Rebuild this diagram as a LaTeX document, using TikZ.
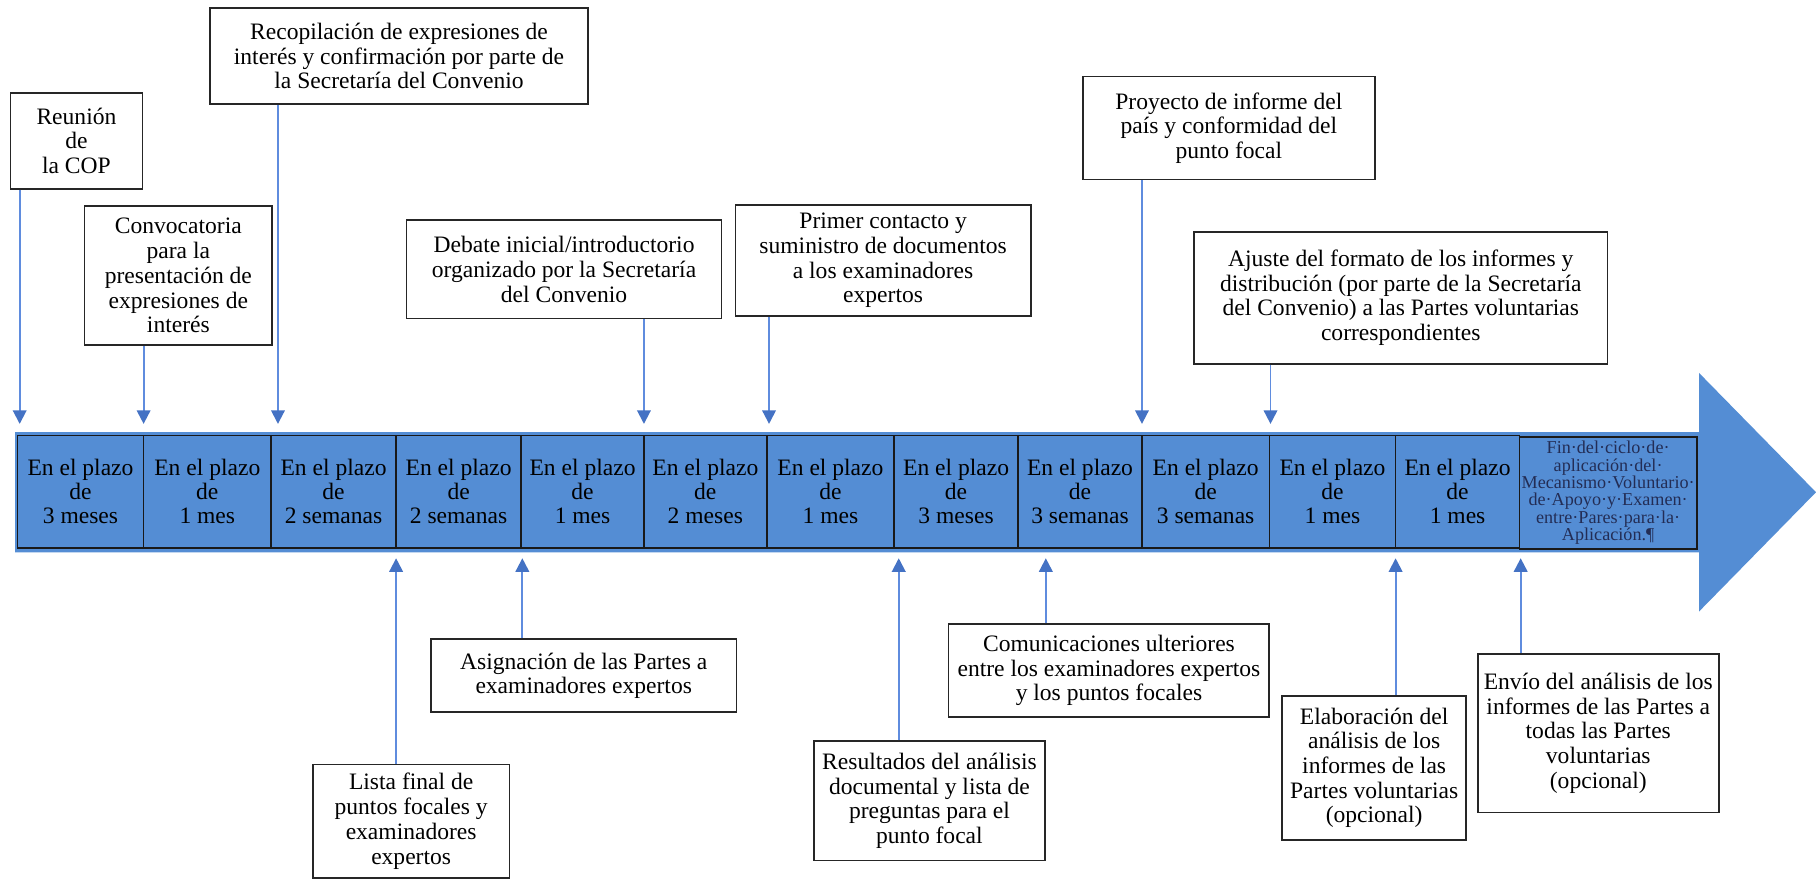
\documentclass[tikz,border=0pt]{standalone}
\usepackage{fontspec}
\setmainfont{Liberation Serif}
\usetikzlibrary{arrows.meta}
\definecolor{barblue}{RGB}{84,141,212}
\definecolor{connblue}{RGB}{95,140,222}
\definecolor{tipblue}{RGB}{68,114,196}
\definecolor{fintext}{RGB}{35,45,85}
\begin{document}
\begin{tikzpicture}[x=0.6pt,y=-0.6pt,
  tbox/.style={draw=black!85, line width=0.9pt, fill=white, align=center, inner sep=2pt, font=\fontsize{12.2}{12.8}\selectfont},
  cell/.style={draw=black!90, line width=0.9pt, fill=barblue, align=center, inner sep=0pt, minimum height=58.2pt, font=\fontsize{12.2}{12.3}\selectfont},
  conn/.style={draw=connblue, line width=1pt, -{Triangle[width=7pt,length=7pt,color=tipblue]}},
]
\useasboundingbox (0,0) rectangle (1568,762);

% big arrow
\fill[barblue]
  (13,373) -- (1467,373) -- (1467,322) -- (1568,425) -- (1467,528) -- (1467,477) -- (13,477) -- cycle;

% cells
\node[cell, minimum width=65.4pt] (c1) at (69.5,424.5) {En el plazo\\de\\3 meses};
\node[cell, minimum width=66pt]   (c2) at (179,424.5) {En el plazo\\de\\1 mes};
\node[cell, minimum width=64.8pt] (c3) at (288,424.5) {En el plazo\\de\\2 semanas};
\node[cell, minimum width=64.8pt] (c4) at (396,424.5) {En el plazo\\de\\2 semanas};
\node[cell, minimum width=63.6pt] (c5) at (503,424.5) {En el plazo\\de\\1 mes};
\node[cell, minimum width=63.6pt] (c6) at (609,424.5) {En el plazo\\de\\2 meses};
\node[cell, minimum width=66pt]   (c7) at (717,424.5) {En el plazo\\de\\1 mes};
\node[cell, minimum width=64.2pt] (c8) at (825.5,424.5) {En el plazo\\de\\3 meses};
\node[cell, minimum width=64.2pt] (c9) at (932.5,424.5) {En el plazo\\de\\3 semanas};
\node[cell, minimum width=66pt]   (c10) at (1041,424.5) {En el plazo\\de\\3 semanas};
\node[cell, minimum width=65.4pt] (c11) at (1150.5,424.5) {En el plazo\\de\\1 mes};
\node[cell, minimum width=64.2pt] (c12) at (1258.5,424.5) {En el plazo\\de\\1 mes};
\node[cell, minimum width=91.8pt, text=fintext, font=\fontsize{9.4}{9}\selectfont] (c13) at (1388.5,425.5)
  {Fin·del·ciclo·de·\\aplicación·del·\\Mecanismo·Voluntario·\\de·Apoyo·y·Examen·\\entre·Pares·para·la·\\Aplicación.¶};

% top boxes
\node[tbox, minimum width=68.4pt, minimum height=49.8pt] (reu) at (66,121.5) {Reunión\\de\\la COP};
\node[tbox, minimum width=97.2pt, minimum height=72pt] (conv) at (154,238) {Convocatoria\\para la\\presentación de\\expresiones de\\interés};
\node[tbox, minimum width=196.2pt, minimum height=49.8pt] (rec) at (344.5,48.5) {Recopilación de expresiones de\\interés y confirmación por parte de\\la Secretaría del Convenio};
\node[tbox, minimum width=163.2pt, minimum height=51pt] (deb) at (487,232.5) {Debate inicial/introductorio\\organizado por la Secretaría\\del Convenio};
\node[tbox, minimum width=153pt, minimum height=57.6pt] (pri) at (762.5,225) {Primer contacto y\\suministro de documentos\\a los examinadores\\expertos};
\node[tbox, minimum width=151.2pt, minimum height=53.4pt] (pro) at (1061,110.5) {Proyecto de informe del\\país y conformidad del\\punto focal};
\node[tbox, minimum width=214.2pt, minimum height=68.4pt] (aju) at (1209.5,257) {Ajuste del formato de los informes y\\distribución (por parte de la Secretaría\\del Convenio) a las Partes voluntarias\\correspondientes};

% bottom boxes
\node[tbox, minimum width=102pt, minimum height=58.8pt] (lis) at (355,709) {Lista final de\\puntos focales y\\examinadores\\expertos};
\node[tbox, minimum width=158.4pt, minimum height=37.8pt] (asi) at (504,583.5) {Asignación de las Partes a\\examinadores expertos};
\node[tbox, minimum width=119.4pt, minimum height=61.8pt] (res) at (802.5,691.5) {Resultados del análisis\\documental y lista de\\preguntas para el\\punto focal};
\node[tbox, minimum width=166.2pt, minimum height=48pt] (com) at (957.5,579) {Comunicaciones ulteriores\\entre los examinadores expertos\\y los puntos focales};
\node[tbox, minimum width=95.4pt, minimum height=74.4pt] (ela) at (1186.5,663) {Elaboración del\\análisis de los\\informes de las\\Partes voluntarias\\(opcional)};
\node[tbox, minimum width=124.8pt, minimum height=82.2pt] (env) at (1380,633) {Envío del análisis de los\\informes de las Partes a\\todas las Partes\\voluntarias\\(opcional)};

% connector tips
\coordinate (treu) at (17,366);
\coordinate (tconv) at (124,366);
\coordinate (trec) at (240,366);
\coordinate (tdeb) at (556,366);
\coordinate (tpri) at (664,366);
\coordinate (tpro) at (986,366);
\coordinate (taju) at (1097,366);
\coordinate (tlis) at (342,482);
\coordinate (tasi) at (451,482);
\coordinate (tres) at (776,482);
\coordinate (tcom) at (903,482);
\coordinate (tela) at (1205,482);
\coordinate (tenv) at (1313,482);

\draw[conn] (reu.south -| treu) -- (treu);
\draw[conn] (conv.south -| tconv) -- (tconv);
\draw[conn] (rec.south -| trec) -- (trec);
\draw[conn] (deb.south -| tdeb) -- (tdeb);
\draw[conn] (pri.south -| tpri) -- (tpri);
\draw[conn] (pro.south -| tpro) -- (tpro);
\draw[conn] (aju.south -| taju) -- (taju);
\draw[conn] (lis.north -| tlis) -- (tlis);
\draw[conn] (asi.north -| tasi) -- (tasi);
\draw[conn] (res.north -| tres) -- (tres);
\draw[conn] (com.north -| tcom) -- (tcom);
\draw[conn] (ela.north -| tela) -- (tela);
\draw[conn] (env.north -| tenv) -- (tenv);
\end{tikzpicture}
\end{document}
